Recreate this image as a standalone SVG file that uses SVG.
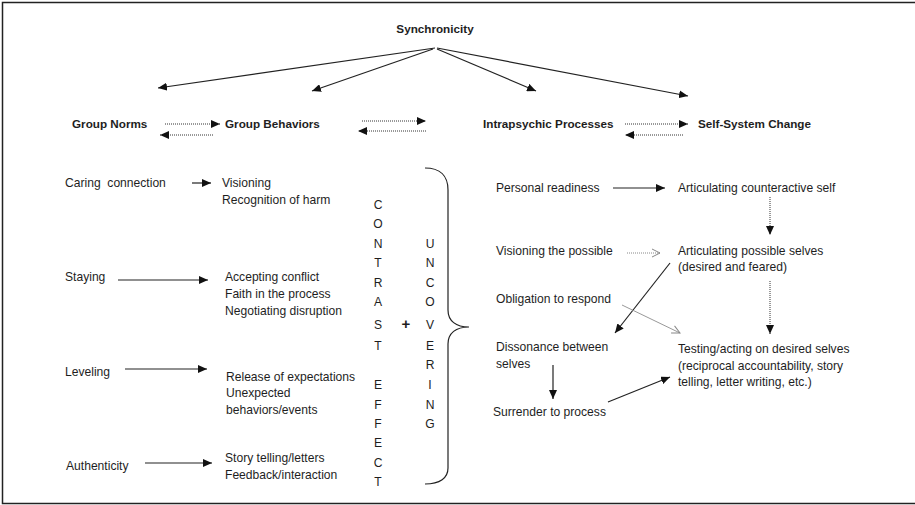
<svg xmlns="http://www.w3.org/2000/svg" width="915" height="505" viewBox="0 0 915 505">
<style>
text{font-family:"Liberation Sans",Arial,sans-serif;font-size:12.1px;fill:#1e1e1e}
.b{font-weight:bold;font-size:11.7px}
.c{text-anchor:middle}
.s{stroke:#222;stroke-width:1.2;fill:none}
.d{stroke:#333;stroke-width:1;stroke-dasharray:1 1;fill:none}
.g{stroke:#999;stroke-width:1;fill:none}
</style>
<defs>
<marker id="a" markerUnits="userSpaceOnUse" markerWidth="9" markerHeight="8" refX="9" refY="4" orient="auto"><path d="M0,0 L9,4 L0,8 z" fill="#111"/></marker>
<marker id="o" markerUnits="userSpaceOnUse" markerWidth="10" markerHeight="10" refX="9" refY="5" orient="auto"><path d="M1,1 L9,5 L1,9" fill="none" stroke="#888" stroke-width="1"/></marker>
</defs>
<rect width="915" height="505" fill="#fff"/>
<path d="M920,2.5 H2.5 V503.5 H920" fill="none" stroke="#222" stroke-width="1.5"/>

<g id="connectors">
<line class="s" x1="435" y1="48" x2="158" y2="88" marker-end="url(#a)"/>
<line class="s" x1="433" y1="49" x2="312" y2="91" marker-end="url(#a)"/>
<line class="s" x1="437" y1="49" x2="536" y2="91" marker-end="url(#a)"/>
<line class="s" x1="437" y1="48" x2="688" y2="96" marker-end="url(#a)"/>

<line class="d" x1="165" y1="124" x2="220" y2="124" marker-end="url(#a)"/>
<line class="d" x1="213" y1="135" x2="160" y2="135" marker-end="url(#a)"/>
<line class="d" x1="362" y1="121" x2="426" y2="121" marker-end="url(#a)"/>
<line class="d" x1="426" y1="131" x2="358" y2="131" marker-end="url(#a)"/>
<line class="d" x1="625" y1="124" x2="688" y2="124" marker-end="url(#a)"/>
<line class="d" x1="683" y1="135" x2="625" y2="135" marker-end="url(#a)"/>

<line class="s" x1="192" y1="183" x2="211" y2="183" marker-end="url(#a)"/>
<line class="s" x1="118" y1="280" x2="208" y2="280" marker-end="url(#a)"/>
<line class="s" x1="125" y1="369" x2="207" y2="369" marker-end="url(#a)"/>
<line class="s" x1="145" y1="463" x2="212" y2="463" marker-end="url(#a)"/>

<path class="s" d="M425,168 C440,168 448,176 448,190 L448,310 C448,321 456,327 469,327 C456,327 448,333 448,344 L448,468 C448,478 440,484 425,484"/>

<line class="s" x1="613" y1="188" x2="665" y2="188" marker-end="url(#a)"/>
<line class="d" x1="770" y1="197" x2="770" y2="235" marker-end="url(#a)"/>
<line class="d" x1="627" y1="253" x2="660" y2="253" marker-end="url(#o)" style="stroke:#888"/>
<line class="s" x1="670" y1="263" x2="615" y2="333" marker-end="url(#a)"/>
<line class="g" x1="622" y1="305" x2="680" y2="333" marker-end="url(#o)"/>
<line class="d" x1="770" y1="281" x2="770" y2="334" marker-end="url(#a)"/>
<line class="s" x1="553" y1="365" x2="553" y2="399" marker-end="url(#a)"/>
<line class="s" x1="608" y1="402" x2="670" y2="377" marker-end="url(#a)"/>
</g>

<g id="synchronicity"><text class="b c" x="435" y="33">Synchronicity</text></g>
<g id="group-norms"><text class="b" x="72" y="128">Group Norms</text></g>
<g id="group-behaviors"><text class="b" x="225" y="128">Group Behaviors</text></g>
<g id="intrapsychic"><text class="b" x="483" y="128">Intrapsychic Processes</text></g>
<g id="self-system"><text class="b" x="698" y="128">Self-System Change</text></g>

<g id="caring"><text x="65" y="187" xml:space="preserve">Caring  connection</text></g>
<g id="visioning"><text x="222" y="187">Visioning</text><text x="222" y="204">Recognition of harm</text></g>
<g id="staying"><text x="65" y="281">Staying</text></g>
<g id="accepting"><text x="225" y="281">Accepting conflict</text><text x="225" y="298">Faith in the process</text><text x="225" y="315">Negotiating disruption</text></g>
<g id="leveling"><text x="65" y="376">Leveling</text></g>
<g id="release"><text x="226" y="381">Release of expectations</text><text x="226" y="397">Unexpected</text><text x="226" y="414">behaviors/events</text></g>
<g id="authenticity"><text x="66" y="470">Authenticity</text></g>
<g id="story"><text x="225" y="462">Story telling/letters</text><text x="225" y="479">Feedback/interaction</text></g>

<g id="contrast-effect">
<text class="c" x="378" y="209">C</text>
<text class="c" x="378" y="228">O</text>
<text class="c" x="378" y="248">N</text>
<text class="c" x="378" y="267">T</text>
<text class="c" x="378" y="287">R</text>
<text class="c" x="378" y="306">A</text>
<text class="c" x="378" y="329">S</text>
<text class="c" x="378" y="350">T</text>
<text class="c" x="378" y="389">E</text>
<text class="c" x="378" y="409">F</text>
<text class="c" x="378" y="428">F</text>
<text class="c" x="378" y="447">E</text>
<text class="c" x="378" y="467">C</text>
<text class="c" x="378" y="486">T</text>
</g>
<g id="plus"><text class="c" x="406" y="329" style="font-size:15px;font-weight:bold">+</text></g>
<g id="uncovering">
<text class="c" x="430" y="248">U</text>
<text class="c" x="430" y="267">N</text>
<text class="c" x="430" y="287">C</text>
<text class="c" x="430" y="306">O</text>
<text class="c" x="430" y="329">V</text>
<text class="c" x="430" y="350">E</text>
<text class="c" x="430" y="369">R</text>
<text class="c" x="430" y="389">I</text>
<text class="c" x="430" y="409">N</text>
<text class="c" x="430" y="428">G</text>
</g>

<g id="personal"><text x="496" y="192">Personal readiness</text></g>
<g id="counteractive"><text x="678" y="192">Articulating counteractive self</text></g>
<g id="visioning-possible"><text x="496" y="255">Visioning the possible</text></g>
<g id="possible-selves"><text x="678" y="255">Articulating possible selves</text><text x="678" y="271">(desired and feared)</text></g>
<g id="obligation"><text x="496" y="303">Obligation to respond</text></g>
<g id="dissonance"><text x="496" y="351">Dissonance between</text><text x="496" y="368">selves</text></g>
<g id="surrender"><text x="493" y="416">Surrender to process</text></g>
<g id="testing"><text x="678" y="353">Testing/acting on desired selves</text><text x="678" y="370">(reciprocal accountability, story</text><text x="678" y="386">telling, letter writing, etc.)</text></g>
</svg>
